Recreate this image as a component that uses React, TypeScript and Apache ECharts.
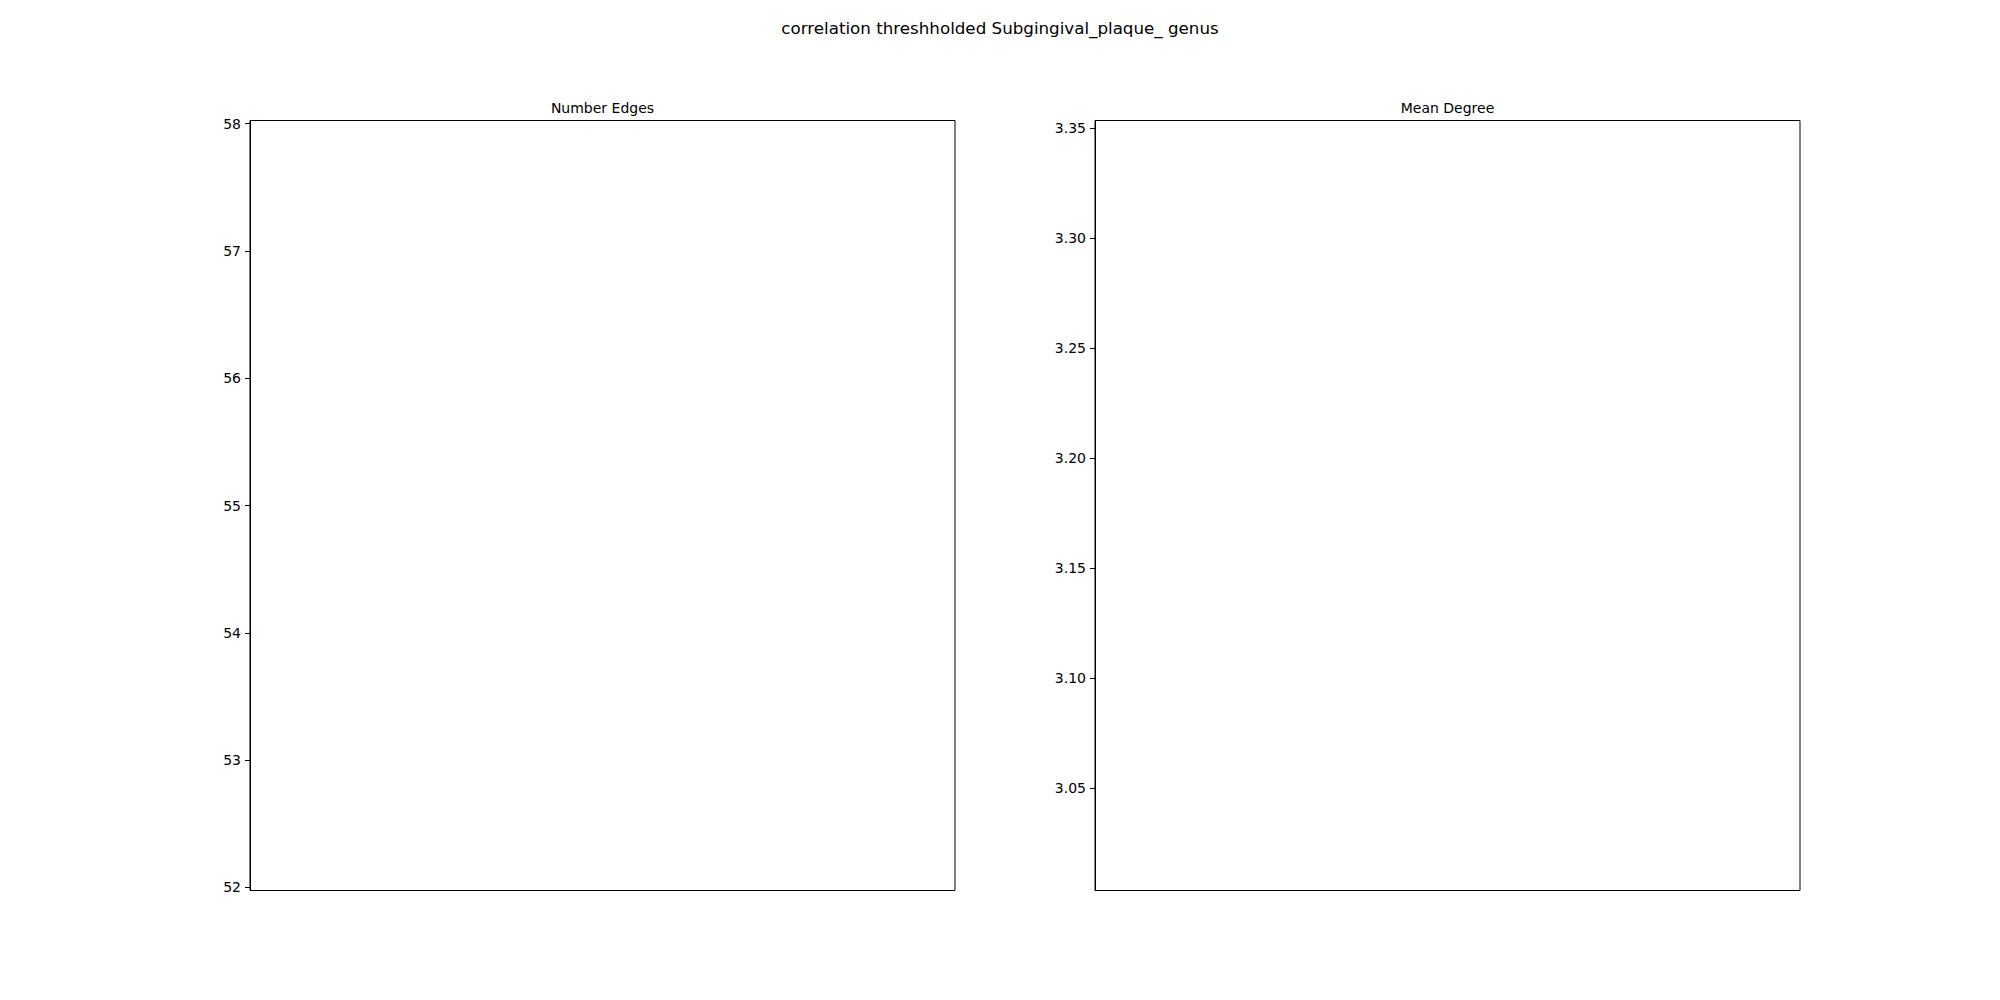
import React, { useEffect, useRef } from "react";
import * as echarts from "echarts";

const suptitle = "correlation threshholded Subgingival_plaque_ genus";
const panelTitles = ["Number Edges", "Mean Degree"];
const edgeTicks = [52, 53, 54, 55, 56, 57, 58];
const degreeTicks = [3.05, 3.1, 3.15, 3.2, 3.25, 3.3, 3.35];
const edgeRange = [51.975, 58.025];
const degreeRange = [3.0036, 3.3533];
const edgeValues: number[][] = [];
const degreeValues: number[][] = [];

const FONT = "DejaVu Sans";

export default function App() {
  const ref = useRef<HTMLDivElement>(null);
  useEffect(() => {
    if (!ref.current) return;
    const chart = echarts.init(ref.current, null, { renderer: "svg" });
    const yAxisBase = (min: number, max: number, ticks: number[], dec: number, gi: number) => ({
      type: "value",
      gridIndex: gi,
      min,
      max,
      axisLine: { show: true, lineStyle: { color: "#000", width: 1 } },
      axisTick: {
        show: true,
        length: 5,
        inside: false,
        customValues: ticks,
        lineStyle: { color: "#000", width: 1 },
      },
      axisLabel: {
        show: true,
        customValues: ticks,
        margin: 9,
        color: "#000",
        fontSize: 14,
        fontFamily: FONT,
        formatter: (v: number) => v.toFixed(dec),
      },
      splitLine: { show: false },
    });
    const xAxisBase = (gi: number) => ({
      type: "value",
      gridIndex: gi,
      min: 0,
      max: 1,
      show: false,
      splitLine: { show: false },
    });
    chart.setOption({
      animation: false,
      backgroundColor: "#fff",
      grid: [
        { left: 250, top: 120.5, width: 705, height: 770, show: true, borderColor: "#000", borderWidth: 1, backgroundColor: "transparent" },
        { left: 1095, top: 120.5, width: 705, height: 770, show: true, borderColor: "#000", borderWidth: 1, backgroundColor: "transparent" },
      ],
      xAxis: [xAxisBase(0), xAxisBase(1)],
      yAxis: [
        yAxisBase(edgeRange[0], edgeRange[1], edgeTicks, 0, 0),
        yAxisBase(degreeRange[0], degreeRange[1], degreeTicks, 2, 1),
      ],
      series: [
        { type: "line", xAxisIndex: 0, yAxisIndex: 0, data: edgeValues, symbol: "none" },
        { type: "line", xAxisIndex: 1, yAxisIndex: 1, data: degreeValues, symbol: "none" },
      ],
      graphic: [
        {
          type: "text",
          x: 1000,
          y: 28,
          style: { text: suptitle, fontSize: 16.7, fontFamily: FONT, fill: "#000", textAlign: "center", textVerticalAlign: "middle" },
        },
        {
          type: "text",
          x: 602.5,
          y: 107.5,
          style: { text: panelTitles[0], fontSize: 14, fontFamily: FONT, fill: "#000", textAlign: "center", textVerticalAlign: "middle" },
        },
        {
          type: "text",
          x: 1447.5,
          y: 107.5,
          style: { text: panelTitles[1], fontSize: 14, fontFamily: FONT, fill: "#000", textAlign: "center", textVerticalAlign: "middle" },
        },
      ],
    });
    return () => chart.dispose();
  }, []);
  return (
    <div
      ref={ref}
      style={{ position: "fixed", left: 0, top: 0, width: 2000, height: 1000, background: "#fff" }}
    />
  );
}
